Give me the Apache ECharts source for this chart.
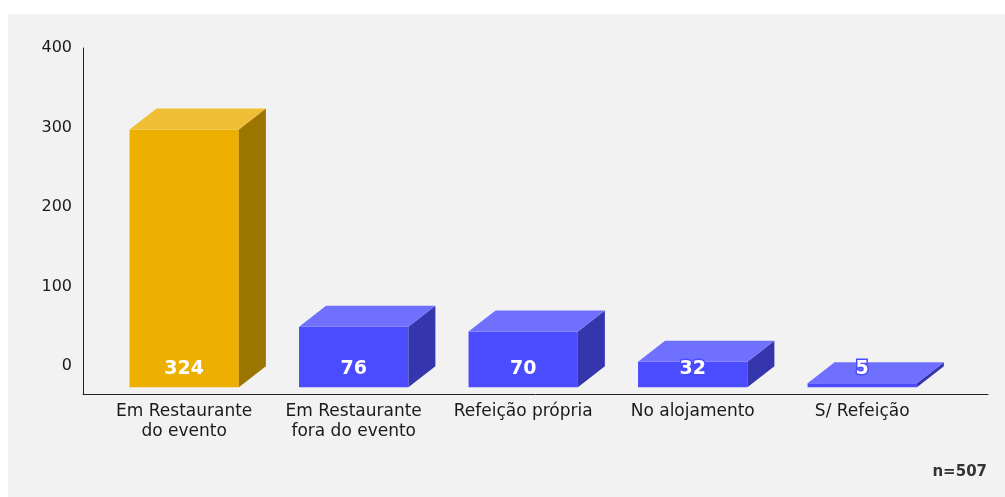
<!DOCTYPE html>
<html>
<head>
<meta charset="utf-8">
<script src="https://cdn.jsdelivr.net/npm/echarts@6/dist/echarts.min.js"></script>
<style>
  html, body { margin: 0; padding: 0; background: #fff; }
  #chart { width: 1005px; height: 497px; }
</style>
</head>
<body>
<div id="chart"></div>
<script>
const categories = ['Em Restaurante\ndo evento', 'Em Restaurante\nfora do evento', 'Refeição própria', 'No alojamento', 'S/ Refeição'];
const values = [324, 76, 70, 32, 5];
const yTicks = [0, 100, 200, 300, 400];

// face colours: [front, top, side]
const gold = ['#EEB000', '#F1BF35', '#9C7400'];
const blue = ['#4B4BFF', '#7070FF', '#3535AE'];

const chart = echarts.init(document.getElementById('chart'));

const option = {
  backgroundColor: '#ffffff',
  graphic: [{
    type: 'rect', left: 8, top: 14, z: -10, silent: true,
    shape: { width: 997, height: 483 },
    style: { fill: '#f2f2f2' }
  }],
  title: {
    text: 'n=507', right: 18, top: 465, padding: 0,
    textStyle: { fontFamily: 'DejaVu Sans', fontSize: 15, fontWeight: 'bold', color: '#333' }
  },
  grid: { left: 83, right: 17, top: 48, bottom: 103 },
  xAxis: {
    type: 'value', min: -0.597, max: 4.742,
    axisLine: { show: true, onZero: false, lineStyle: { color: '#222', width: 1 } },
    axisTick: { show: false },
    splitLine: { show: false },
    axisLabel: {
      customValues: [0, 1, 2, 3, 4],
      formatter: v => categories[Math.round(v)],
      margin: 8, lineHeight: 20,
      fontFamily: 'DejaVu Sans', fontSize: 17, color: '#1a1a1a'
    }
  },
  yAxis: {
    type: 'value', min: -35, max: 400,
    axisLine: { show: true, onZero: false, lineStyle: { color: '#222', width: 1 } },
    axisTick: { show: false },
    splitLine: { show: false },
    axisLabel: {
      customValues: yTicks,
      margin: 11,
      fontFamily: 'DejaVu Sans', fontSize: 16, color: '#1a1a1a'
    }
  },
  series: [{
    type: 'custom',
    data: values.map((v, i) => [i, v]),
    renderItem: function (params, api) {
      const i = api.value(0);
      const v = api.value(1);
      const base = api.coord([i, 0]);
      const top = api.coord([i, v]);
      const w = api.size([1, 0])[0] * 0.645;
      const dx = 27, dy = 21;
      const x0 = base[0] - w / 2, x1 = base[0] + w / 2;
      const yb = base[1] + dy, yt = top[1] + dy;
      const c = i === 0 ? gold : blue;
      return {
        type: 'group',
        children: [
          { type: 'rect', shape: { x: x0, y: yt, width: w, height: yb - yt }, style: { fill: c[0] } },
          { type: 'polygon', shape: { points: [[x1, yt], [x1 + dx, yt - dy], [x1 + dx, yb - dy], [x1, yb]] }, style: { fill: c[2] } },
          { type: 'polygon', shape: { points: [[x0, yt], [x0 + dx, yt - dy], [x1 + dx, yt - dy], [x1, yt]] }, style: { fill: c[1] } },
          {
            type: 'text',
            style: {
              text: String(v), x: base[0], y: base[1] + 3,
              align: 'center', verticalAlign: 'middle',
              fill: '#fff', stroke: c[0], lineWidth: 3,
              font: 'bold 19px "DejaVu Sans"'
            }
          }
        ]
      };
    }
  }]
};

chart.setOption(option);
</script>
</body>
</html>
